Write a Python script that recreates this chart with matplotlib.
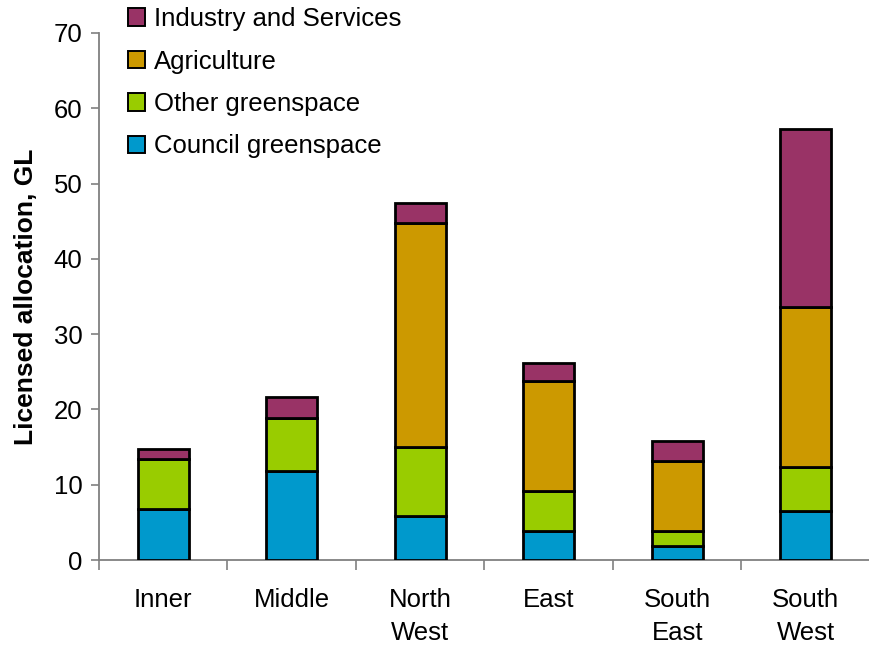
import matplotlib
matplotlib.use("Agg")
import matplotlib.pyplot as plt
import numpy as np
from matplotlib.patches import Patch

plt.rcParams['font.family'] = ['Liberation Sans', 'DejaVu Sans']

regions = ["Inner", "Middle", "North\nWest", "East", "South\nEast", "South\nWest"]
council = [6.8, 11.8, 5.8, 3.9, 1.8, 6.5]
other_green = [6.6, 7.0, 9.2, 5.3, 2.1, 5.8]
agriculture = [0.0, 0.0, 29.7, 14.6, 9.3, 21.3]
industry = [1.4, 2.9, 2.7, 2.4, 2.6, 23.6]

series = [
    ("Council greenspace", council, "#0099CC"),
    ("Other greenspace", other_green, "#99CC00"),
    ("Agriculture", agriculture, "#CC9900"),
    ("Industry and Services", industry, "#993366"),
]

FS = 18.5

fig = plt.figure(figsize=(8.7, 6.46), dpi=100)
ax = fig.add_axes([99 / 870, 1 - 560 / 646, 1 - 99 / 870, (560 - 33) / 646])

x = np.arange(len(regions))
bottom = np.zeros(len(regions))
for name, vals, col in series:
    vals = np.array(vals)
    ax.bar(x, vals, width=0.4, bottom=bottom, color=col, edgecolor="black",
           linewidth=2.0, label=name, zorder=3)
    bottom += vals

ax.set_ylim(0, 70)
ax.set_xlim(-0.5, (870 - 164) / 130)
ax.set_yticks(np.arange(0, 71, 10))
ax.set_xticks(x)
ax.set_xticklabels(regions, fontsize=FS, linespacing=1.5)
ax.set_xticks(np.arange(-0.5, 5.6, 1.0), minor=True)
ax.tick_params(axis="x", which="major", length=0, pad=20)
ax.tick_params(axis="x", which="minor", length=7, width=1.2, color="#808080", direction="out")
ax.tick_params(axis="y", labelsize=FS, length=6, width=1.2, color="#808080", pad=6)

for side in ("top", "right"):
    ax.spines[side].set_visible(False)
for side in ("left", "bottom"):
    ax.spines[side].set_color("#808080")
    ax.spines[side].set_linewidth(1.3)

ax.set_ylabel("Licensed allocation, GL", fontsize=19, fontweight="bold", labelpad=11)

handles = [Patch(facecolor=c, edgecolor="black", linewidth=1.4, label=n)
           for n, _, c in reversed(series)]
fig.legend(handles=handles, loc="upper left", bbox_to_anchor=(128 / 870, 1 - 7 / 646),
           frameon=False, fontsize=FS, handlelength=0.65, handleheight=0.65,
           handletextpad=0.35, labelspacing=0.72, borderpad=0, borderaxespad=0)

fig.savefig("out.png", dpi=100)
